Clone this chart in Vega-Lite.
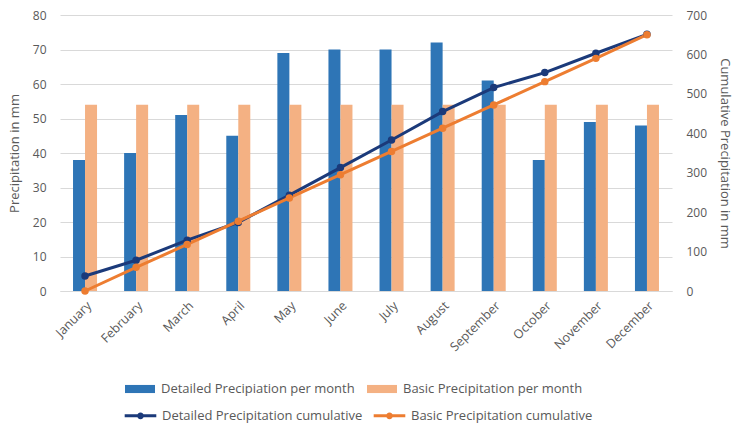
{
  "$schema": "https://vega.github.io/schema/vega-lite/v6.json",
  "autosize": {"type": "none"},
  "width": 612,
  "height": 276,
  "padding": {"left": 60, "top": 15, "right": 65, "bottom": 139},
  "background": "white",
  "config": {
    "font": "Open Sans",
    "view": {"stroke": null},
    "axis": {"labelColor": "#595959", "titleColor": "#595959", "titleFontWeight": "normal", "labelFontSize": 12, "titleFontSize": 13, "labelOverlap": false}
  },
  "data": {
    "values": [
      {"month": "January", "detailed": 38, "basic": 54, "detailedCum": 38, "basicCum": 0},
      {"month": "February", "detailed": 40, "basic": 54, "detailedCum": 78, "basicCum": 60},
      {"month": "March", "detailed": 51, "basic": 54, "detailedCum": 129, "basicCum": 118},
      {"month": "April", "detailed": 45, "basic": 54, "detailedCum": 174, "basicCum": 177},
      {"month": "May", "detailed": 69, "basic": 54, "detailedCum": 243, "basicCum": 236},
      {"month": "June", "detailed": 70, "basic": 54, "detailedCum": 313, "basicCum": 295},
      {"month": "July", "detailed": 70, "basic": 54, "detailedCum": 383, "basicCum": 354},
      {"month": "August", "detailed": 72, "basic": 54, "detailedCum": 455, "basicCum": 413},
      {"month": "September", "detailed": 61, "basic": 54, "detailedCum": 516, "basicCum": 472},
      {"month": "October", "detailed": 38, "basic": 54, "detailedCum": 554, "basicCum": 531},
      {"month": "November", "detailed": 49, "basic": 54, "detailedCum": 603, "basicCum": 590},
      {"month": "December", "detailed": 48, "basic": 54, "detailedCum": 651, "basicCum": 650}
    ]
  },
  "encoding": {
    "x": {
      "field": "month",
      "type": "nominal",
      "sort": null,
      "scale": {"paddingInner": 0.53, "paddingOuter": 0.255},
      "axis": {"title": null, "labelAngle": -45, "labelAlign": "right", "labelBaseline": "top", "labelPadding": 8, "ticks": false, "domainColor": "#D9D9D9", "labelFontSize": 12.5}
    }
  },
  "layer": [
    {
      "transform": [{"fold": ["detailed", "basic"], "as": ["series", "mm"]}],
      "mark": {"type": "bar"},
      "encoding": {
        "xOffset": {"field": "series", "type": "nominal", "scale": {"domain": ["detailed", "basic"], "paddingInner": 0, "paddingOuter": 0}},
        "y": {
          "field": "mm",
          "type": "quantitative",
          "scale": {"domain": [0, 80]},
          "axis": {"title": "Precipitation in mm", "values": [0, 10, 20, 30, 40, 50, 60, 70, 80], "domain": false, "ticks": false, "gridColor": "#D9D9D9", "labelPadding": 14, "titlePadding": 11}
        },
        "fill": {
          "field": "series",
          "type": "nominal",
          "scale": {"domain": ["detailed", "basic"], "range": ["#2E75B6", "#F4B183"]},
          "legend": {
            "orient": "none",
            "legendX": 65,
            "legendY": 359,
            "direction": "horizontal",
            "title": null,
            "labelExpr": "datum.value == 'detailed' ? 'Detailed Precipiation per month' : 'Basic Precipitation per month'",
            "symbolType": "M-1,-0.27H1V0.27H-1Z",
            "symbolSize": 900,
            "symbolStrokeWidth": 0,
            "labelFontSize": 13,
            "labelLimit": 400,
            "labelColor": "#595959",
            "labelOffset": 6,
            "columnPadding": 12
          }
        }
      }
    },
    {
      "transform": [{"fold": ["detailedCum", "basicCum"], "as": ["cumSeries", "cum"]}],
      "layer": [
        {
          "mark": {"type": "line", "strokeWidth": 3},
          "encoding": {}
        },
        {
          "mark": {"type": "point", "filled": true, "size": 30, "opacity": 1},
          "encoding": {
            "fill": {
              "field": "cumSeries",
              "type": "nominal",
              "scale": {"domain": ["detailedCum", "basicCum"], "range": ["#1B3A7A", "#ED7D31"]},
              "legend": null
            }
          }
        }
      ],
      "encoding": {
        "y": {
          "field": "cum",
          "type": "quantitative",
          "scale": {"domain": [0, 700]},
          "axis": {"title": "Cumulative Precipitation in mm", "orient": "right", "values": [0, 100, 200, 300, 400, 500, 600, 700], "grid": false, "domain": false, "ticks": false, "labelPadding": 14, "titlePadding": 11}
        },
        "stroke": {
          "field": "cumSeries",
          "type": "nominal",
          "scale": {"domain": ["detailedCum", "basicCum"], "range": ["#1B3A7A", "#ED7D31"]},
          "legend": {
            "orient": "none",
            "legendX": 63,
            "legendY": 383,
            "direction": "horizontal",
            "title": null,
            "labelExpr": "datum.value == 'detailedCum' ? 'Detailed Precipitation cumulative' : 'Basic Precipitation cumulative'",
            "symbolType": "M-1,0H1M-0.12,0A0.12,0.12 0 1,1 0.12,0A0.12,0.12 0 1,1 -0.12,0",
            "symbolSize": 1000,
            "symbolStrokeWidth": 3,
            "labelFontSize": 13,
            "labelLimit": 400,
            "labelColor": "#595959",
            "labelOffset": 4,
            "columnPadding": 4
          }
        }
      }
    }
  ],
  "resolve": {"scale": {"y": "independent", "fill": "independent"}}
}
